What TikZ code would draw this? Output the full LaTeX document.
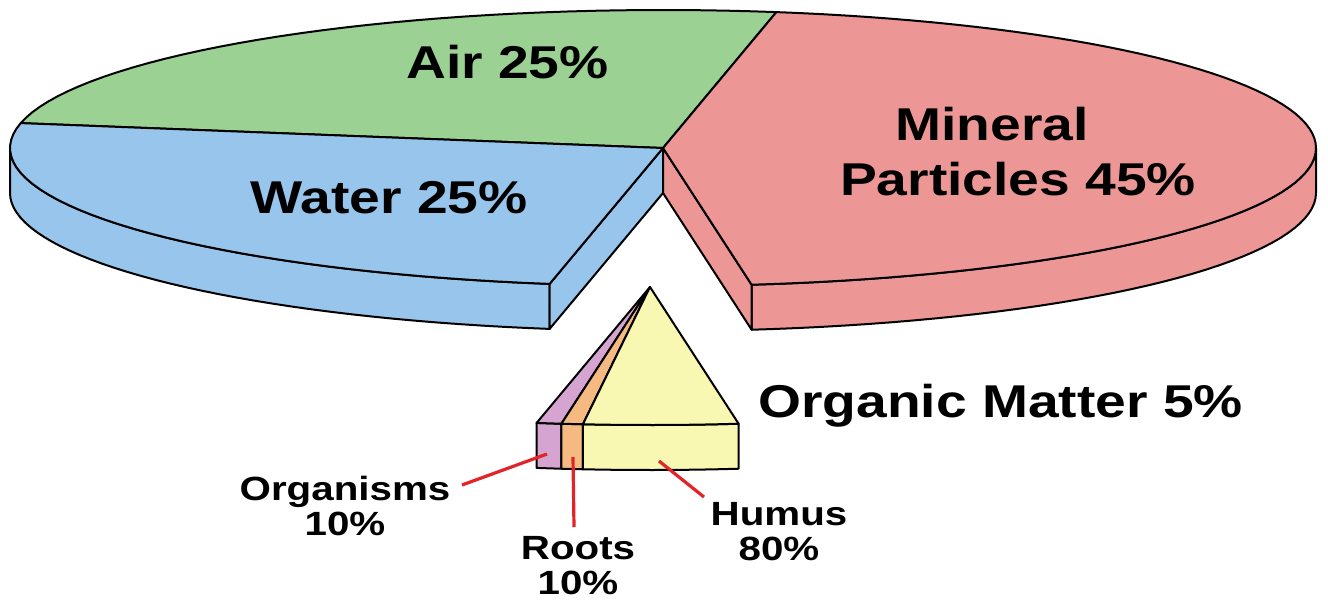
\documentclass[tikz,border=0pt]{standalone}
\usepackage{fontspec}
\usepackage{xcolor}
\usepackage{tikz}
\newfontfamily\labelfont{Liberation Sans}[FakeStretch=1.2]

\definecolor{airgreen}{RGB}{155,210,147}
\definecolor{waterblue}{RGB}{151,197,236}
\definecolor{minred}{RGB}{236,150,149}
\definecolor{humusyellow}{RGB}{248,248,178}
\definecolor{rootorange}{RGB}{244,186,130}
\definecolor{orgpurple}{RGB}{213,164,208}
\definecolor{leaderred}{RGB}{226,35,40}

\newcommand{\rimx}[1]{663+653*cos(#1)}
\newcommand{\rimy}[1]{148-138*sin(#1)}

\tikzset{
  face/.style={draw=black, line width=1pt, line join=round},
  leader/.style={draw=leaderred, line width=1.6pt},
  bigtext/.style={font=\labelfont\bfseries\fontsize{23}{27.5}\selectfont, inner sep=0pt, anchor=base},
  smalltext/.style={font=\labelfont\bfseries\fontsize{16.8}{17.5}\selectfont, inner sep=0pt, anchor=base, align=center}
}

\begin{document}
\begin{tikzpicture}[x=0.5pt, y=-0.5pt]
            \useasboundingbox (0,0) rectangle (1328,601);
            \coordinate (ctr) at (663,148);
            \coordinate (ctrlow) at (663,193);
            \coordinate (waterrim) at ({\rimx{260}},{\rimy{260}});
            \coordinate (minrim) at ({\rimx{277.8}},{\rimy{277.8}});
            \draw [face, fill=waterblue] plot[domain=180:260, samples=40] ({\rimx{\x}},{\rimy{\x}})
                -- plot[domain=260:180, samples=40] ({\rimx{\x}},{\rimy{\x}+45}) -- cycle;
            \draw [face, fill=waterblue] (ctr) -- (waterrim) -- ++(0,45) -- (ctrlow) -- cycle;
            \draw [face, fill=minred] plot[domain=277.8:360, samples=40] ({\rimx{\x}},{\rimy{\x}})
                -- plot[domain=360:277.8, samples=40] ({\rimx{\x}},{\rimy{\x}+45}) -- cycle;
            \draw [face, fill=minred] (ctr) -- (minrim) -- ++(0,45) -- (ctrlow) -- cycle;
            \draw [face, fill=airgreen] (ctr) -- plot[domain=80:169.6, samples=40] ({\rimx{\x}},{\rimy{\x}}) -- cycle;
            \draw [face, fill=waterblue] (ctr) -- plot[domain=169.6:260, samples=40] ({\rimx{\x}},{\rimy{\x}}) -- cycle;
            \draw [face, fill=minred] (ctr) -- plot[domain=-82.2:80, samples=80] ({\rimx{\x}},{\rimy{\x}}) -- cycle;
            \begin{scope}[shift={(-13,139)}]
                \coordinate (apex) at (663,148);
                \draw [face, fill=orgpurple] plot[domain=260:262.2, samples=4] ({\rimx{\x}},{\rimy{\x}})
                    -- plot[domain=262.2:260, samples=4] ({\rimx{\x}},{\rimy{\x}+45}) -- cycle;
                \draw [face, fill=rootorange] plot[domain=262.2:264.1, samples=4] ({\rimx{\x}},{\rimy{\x}})
                    -- plot[domain=264.1:262.2, samples=4] ({\rimx{\x}},{\rimy{\x}+45}) -- cycle;
                \draw [face, fill=humusyellow] plot[domain=264.1:277.8, samples=12] ({\rimx{\x}},{\rimy{\x}})
                    -- plot[domain=277.8:264.1, samples=12] ({\rimx{\x}},{\rimy{\x}+45}) -- cycle;
                \draw [face, fill=orgpurple] (apex) -- plot[domain=260:262.2, samples=4] ({\rimx{\x}},{\rimy{\x}}) -- cycle;
                \draw [face, fill=rootorange] (apex) -- plot[domain=262.2:264.1, samples=4] ({\rimx{\x}},{\rimy{\x}}) -- cycle;
                \draw [face, fill=humusyellow] (apex) -- plot[domain=264.1:277.8, samples=12] ({\rimx{\x}},{\rimy{\x}}) -- cycle;
            \end{scope}
            \node [bigtext] (air) at (507.5,78) {Air 25\%};
            \node [bigtext] (water) at (389,213) {Water 25\%};
            \node [bigtext] (mineral) at (992,140) {Mineral};
            \node [bigtext] (particles) at (1018,195) {Particles 45\%};
            \node [bigtext, anchor=base west] (organic) at (758,417) {Organic Matter 5\%};
            \node [smalltext] (organisms) at (345,535) {Organisms\\10\%};
            \node [smalltext] (roots) at (578,594) {Roots\\10\%};
            \node [smalltext] (humus) at (779,560) {Humus\\80\%};
            \coordinate (orgtip) at (547,454);
            \coordinate (orgend) at (462,485);
            \coordinate (roottip) at (573,457);
            \coordinate (rootend) at (574,527);
            \coordinate (humtip) at (659,461);
            \coordinate (humend) at (704,497);
            \draw [leader] (orgtip) -- (orgend);
            \draw [leader] (roottip) -- (rootend);
            \draw [leader] (humtip) -- (humend);
        \end{tikzpicture}
\end{document}
